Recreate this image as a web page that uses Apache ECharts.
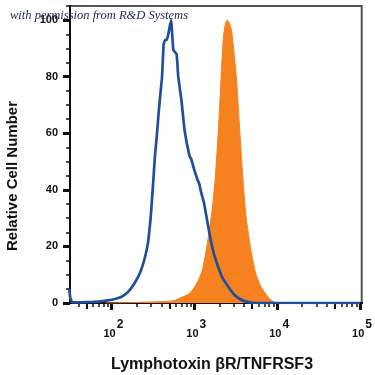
<!DOCTYPE html>
<html lang="en">
<head>
    <meta charset="UTF-8">
    <title>Lymphotoxin beta R histogram</title>
    <script src="https://cdn.jsdelivr.net/npm/echarts@6/dist/echarts.min.js"></script>
    <style>
        html, body { margin: 0; padding: 0; background: #fff; }
        #chart { width: 375px; height: 375px; }
    </style>
</head>
<body>
<div id="chart"></div>
<script>
    // isotype control (blue outline) - intensity / relative count
    var blueX = [31, 32, 34, 40, 50, 60, 75, 90, 110, 133, 160, 190, 220, 249, 275, 298, 318, 335, 355, 373, 390, 408, 427, 446, 465, 485, 524, 559, 611, 640, 699, 764, 874, 915, 1000, 1096, 1150, 1200, 1310, 1497, 1713, 2148, 2937, 3500, 4215, 5500, 100000];
    var blueY = [5, 1.5, 0.3, 0.2, 0.3, 0.4, 0.6, 0.9, 1.4, 2.2, 4, 7, 10.5, 15.2, 21, 30.5, 42, 52, 60, 68, 74, 80, 91.5, 93, 93, 95, 100, 89.4, 88, 80, 71.7, 61, 52, 51, 47, 43.5, 42, 39.5, 35.3, 25.8, 17.6, 9.3, 3.4, 1.5, 0.5, 0, 0];

    // stained cells (orange filled)
    var orangeX = [85, 150, 250, 400, 559, 731, 874, 1000, 1120, 1253, 1435, 1641, 1794, 1960, 2107, 2243, 2370, 2500, 2640, 2813, 3000, 3219, 3518, 3846, 4215, 4822, 5517, 6300, 7216, 8300, 9862, 100000];
    var orangeY = [0, 0.1, 0.3, 0.5, 0.8, 2.2, 3.4, 5.5, 8, 11.7, 21, 32.9, 44.6, 62, 80, 94, 98.5, 100, 99, 96.5, 89, 80, 62, 44.6, 30.5, 18.7, 10.4, 6, 3.4, 1.2, 0, 0];

    // axis ticks
    var decades = [100, 1000, 10000, 100000];
    var halfDecades = [50, 500, 5000, 50000];
    var minorMult = [2, 3, 4, 6, 7, 8, 9];
    var yLabels = [0, 20, 40, 60, 80, 100];

    function toLog(xs, ys) {
        return xs.map(function (x, i) { return [Math.log10(x), ys[i]]; });
    }
    var minorTicks = [];
    [10, 100, 1000, 10000].forEach(function (d) {
        minorMult.forEach(function (m) { minorTicks.push(Math.log10(d * m)); });
    });
    var yMinor = [];
    for (var v = 0; v <= 105; v += 5) yMinor.push(v);

    var xMin = 1.5, xMax = 5.02;
    function xAxisBase(extra) {
        var a = {
            type: 'value', min: xMin, max: xMax, position: 'bottom',
            splitLine: { show: false },
            axisLine: { show: true, onZero: false, lineStyle: { color: '#111', width: 2 } },
            axisLabel: { show: false }
        };
        return Object.assign(a, extra);
    }

    var chart = echarts.init(document.getElementById('chart'));
    chart.setOption({
        animation: false,
        grid: { left: 70, right: 4, top: 6, bottom: 72, show: true, borderColor: '#555', borderWidth: 2 },
        xAxis: [
            xAxisBase({
                axisTick: { show: true, length: 4, customValues: minorTicks, lineStyle: { color: '#111', width: 1.5 } }
            }),
            xAxisBase({
                axisTick: { show: true, length: 6, customValues: halfDecades.map(Math.log10), lineStyle: { color: '#111', width: 2 } }
            }),
            xAxisBase({
                axisTick: { show: true, length: 7, customValues: decades.map(Math.log10), lineStyle: { color: '#111', width: 3 } },
                axisLabel: {
                    show: true,
                    customValues: decades.map(Math.log10),
                    margin: 16,
                    formatter: function (val) {
                        return '{b|10}{s|' + Math.round(val) + '}';
                    },
                    rich: {
                        b: { fontSize: 11, fontFamily: 'Liberation Sans', fontWeight: 'bold', color: '#111', lineHeight: 20, verticalAlign: 'bottom', padding: [0, 1, 0, 4] },
                        s: { fontSize: 12, fontFamily: 'Liberation Sans', fontWeight: 'bold', color: '#111', lineHeight: 20, verticalAlign: 'top' }
                    }
                }
            })
        ],
        yAxis: [
            {
                type: 'value', min: 0, max: 105,
                splitLine: { show: false },
                axisLine: { show: true, lineStyle: { color: '#111', width: 2 } },
                axisTick: { show: true, length: 7, customValues: yLabels, lineStyle: { color: '#111', width: 3 } },
                axisLabel: {
                    customValues: yLabels, margin: 12,
                    fontSize: 11, fontWeight: 'bold', fontFamily: 'Liberation Sans', color: '#111'
                }
            },
            {
                type: 'value', min: 0, max: 105, position: 'left',
                splitLine: { show: false },
                axisLine: { show: false },
                axisTick: { show: true, length: 4, customValues: yMinor, lineStyle: { color: '#111', width: 1.5 } },
                axisLabel: { show: false }
            }
        ],
        series: [
            {
                name: 'stained',
                type: 'line',
                data: toLog(orangeX, orangeY),
                showSymbol: false,
                smooth: 0.2,
                lineStyle: { color: '#f5821f', width: 1 },
                areaStyle: { color: '#f5821f', opacity: 1 },
                z: 2
            },
            {
                name: 'control',
                type: 'line',
                data: toLog(blueX, blueY),
                showSymbol: false,
                smooth: 0.15,
                lineStyle: { color: '#1f4f9c', width: 2.7 },
                z: 3
            }
        ],
        graphic: [
            {
                type: 'text', x: 10, y: 9, z: 100,
                style: { text: 'with permission from R&D Systems', font: 'italic 12.5px "Liberation Serif"', fill: '#1b2850' }
            },
            {
                type: 'text', x: 212, y: 365, z: 100,
                style: { text: 'Lymphotoxin βR/TNFRSF3', font: 'bold 16px "Liberation Sans"', fill: '#111', textAlign: 'center', textVerticalAlign: 'middle' }
            },
            {
                type: 'text', x: 13, y: 176, rotation: Math.PI / 2, z: 100,
                style: { text: 'Relative Cell Number', font: 'bold 15px "Liberation Sans"', fill: '#111', textAlign: 'center', textVerticalAlign: 'middle' }
            }
        ]
    });
</script>
</body>
</html>
